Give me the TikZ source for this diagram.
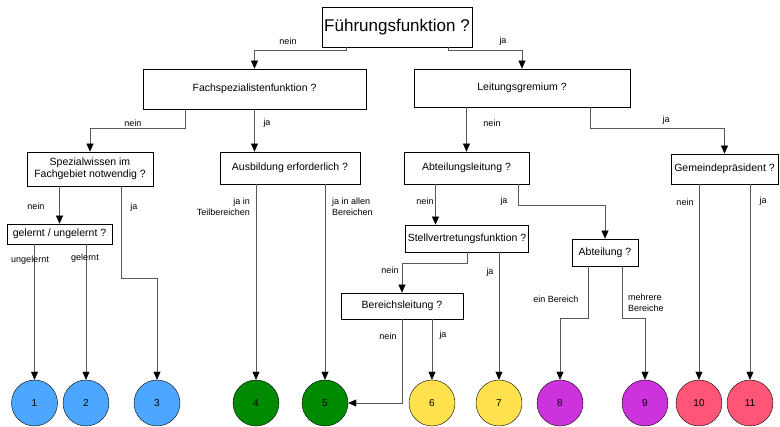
\documentclass[tikz,border=0pt]{standalone}
\usepackage{fontspec}
\setmainfont{Liberation Sans}
\usetikzlibrary{arrows.meta,positioning,calc}

\definecolor{grpblue}{HTML}{4DA6FF}
\definecolor{grpgreen}{HTML}{008A00}
\definecolor{grpyellow}{HTML}{FFE14D}
\definecolor{grppurple}{HTML}{CC33DD}
\definecolor{grppink}{HTML}{FF5577}

\begin{document}
\begin{tikzpicture}[
  x=1pt, y=1pt,
  box/.style={draw, thick, align=center, inner sep=2pt, font=\fontsize{10.5}{12.5}\selectfont},
  res/.style={draw, circle, minimum size=46pt, inner sep=0pt, font=\fontsize{10}{12}\selectfont},
  lbl/.style={inner sep=0pt, font=\fontsize{9}{10.5}\selectfont},
  arr/.style={draw=black!65, -{Triangle[black,length=8pt,width=7pt]}}
]
\useasboundingbox (0,0) rectangle (780,-427);

% Fragen
\node[box, minimum width=150pt, minimum height=40pt, font=\fontsize{17}{20}\selectfont] (fuehrung) at (397,-27) {Führungsfunktion ?};
\node[box, minimum width=223pt, minimum height=40pt] (fach) at (254.5,-89) {Fachspezialistenfunktion ?};
\node[box, minimum width=216pt, minimum height=38pt] (leitung) at (522,-88) {Leitungsgremium ?};
\node[box, minimum width=126pt, minimum height=34pt] (spezial) at (90,-169) {Spezialwissen im\\Fachgebiet notwendig ?};
\node[box, minimum width=140pt, minimum height=32pt] (ausbildung) at (290,-168) {Ausbildung erforderlich ?};
\node[box, minimum width=125pt, minimum height=32pt] (abtleitung) at (466.5,-168) {Abteilungsleitung ?};
\node[box, minimum width=107pt, minimum height=30pt] (gemeinde) at (724.5,-169) {Gemeindepräsident ?};
\node[box, minimum width=105pt, minimum height=20pt] (gelernt) at (59.5,-234) {gelernt / ungelernt ?};
\node[box, minimum width=122pt, minimum height=27pt] (stellv) at (467,-238.5) {Stellvertretungsfunktion ?};
\node[box, minimum width=66pt, minimum height=27pt] (abteilung) at (605,-252.5) {Abteilung ?};
\node[box, minimum width=122pt, minimum height=26pt] (bereich) at (402,-306) {Bereichsleitung ?};

% Ergebnisse
\node[res, fill=grpblue] (c1) at (34.5,-403) {1};
\node[res, fill=grpblue] (c2) at (86,-403) {2};
\node[res, fill=grpblue] (c3) at (157,-403) {3};
\node[res, fill=grpgreen] (c4) at (256,-403) {4};
\node[res, fill=grpgreen] (c5) at (325,-403) {5};
\node[res, fill=grpyellow] (c6) at (432,-403) {6};
\node[res, fill=grpyellow] (c7) at (499,-403) {7};
\node[res, fill=grppurple] (c8) at (560,-403) {8};
\node[res, fill=grppurple] (c9) at (645,-403) {9};
\node[res, fill=grppink] (c10) at (699,-403) {10};
\node[res, fill=grppink] (c11) at (750,-403) {11};

% Verbindungen
\draw[arr] ([xshift=-51pt]fuehrung.south) -- ++(0,-3) -| (fach.north);
\draw[arr] ([xshift=51pt]fuehrung.south) -- ++(0,-3) -| (leitung.north);
\draw[arr] ([xshift=-69.5pt]fach.south) -- ++(0,-19) -| (spezial.north);
\draw[arr] (fach.south) -- (fach.south |- ausbildung.north);
\draw[arr] (abtleitung.north |- leitung.south) -- (abtleitung.north);
\draw[arr] ([xshift=68pt]leitung.south) -- ++(0,-21) -| (gemeinde.north);
\draw[arr] (gelernt.north |- spezial.south) -- (gelernt.north);
\draw[arr] ([xshift=31pt]spezial.south) -- ++(0,-92) -| (c3.north);
\draw[arr] (c1.north |- gelernt.south) -- (c1.north);
\draw[arr] (c2.north |- gelernt.south) -- (c2.north);
\draw[arr] (c4.north |- ausbildung.south) -- (c4.north);
\draw[arr] (c5.north |- ausbildung.south) -- (c5.north);
\draw[arr] ([xshift=-31pt]abtleitung.south) -- ([xshift=-31pt]abtleitung.south |- stellv.north);
\draw[arr] ([xshift=51.5pt]abtleitung.south) -- ++(0,-21) -| (abteilung.north);
\draw[arr] (c10.north |- gemeinde.south) -- (c10.north);
\draw[arr] (c11.north |- gemeinde.south) -- (c11.north);
\draw[arr] (stellv.south) -- ++(0,-11) -| (bereich.north);
\draw[arr] (c7.north |- stellv.south) -- (c7.north);
\draw[arr] (bereich.south) |- (c5.east);
\draw[arr] (c6.north |- bereich.south) -- (c6.north);
\draw[arr] ([xshift=-17pt]abteilung.south) -- ++(0,-52) -| (c8.north);
\draw[arr] ([xshift=17pt]abteilung.south) -- ++(0,-52) -| (c9.north);

% Beschriftungen
\node[lbl] (l-fue-nein) at (288,-41) {nein};
\node[lbl] (l-fue-ja) at (503,-41) {ja};
\node[lbl] (l-fach-nein) at (133,-123) {nein};
\node[lbl] (l-fach-ja) at (267,-123) {ja};
\node[lbl] (l-leit-nein) at (492,-123) {nein};
\node[lbl] (l-leit-ja) at (666,-120) {ja};
\node[lbl] (l-spez-nein) at (36,-206) {nein};
\node[lbl] (l-spez-ja) at (134,-207) {ja};
\node[lbl] (l-ungelernt) at (30,-260) {ungelernt};
\node[lbl] (l-gelernt) at (85,-258) {gelernt};
\node[lbl, anchor=east, align=right] (l-teil) at (250,-207) {ja in\\Teilbereichen};
\node[lbl, anchor=west, align=left] (l-alle) at (332,-207) {ja in allen\\Bereichen};
\node[lbl] (l-abt-nein) at (425,-201) {nein};
\node[lbl] (l-abt-ja) at (504,-201) {ja};
\node[lbl] (l-gem-nein) at (685,-202) {nein};
\node[lbl] (l-gem-ja) at (763,-201) {ja};
\node[lbl] (l-stv-nein) at (390,-270) {nein};
\node[lbl] (l-stv-ja) at (490,-272) {ja};
\node[lbl] (l-ber-nein) at (388,-336) {nein};
\node[lbl] (l-ber-ja) at (443,-335) {ja};
\node[lbl] (l-ein) at (556,-299) {ein Bereich};
\node[lbl, anchor=west, align=left] (l-mehr) at (628,-303) {mehrere\\Bereiche};
\end{tikzpicture}
\end{document}
